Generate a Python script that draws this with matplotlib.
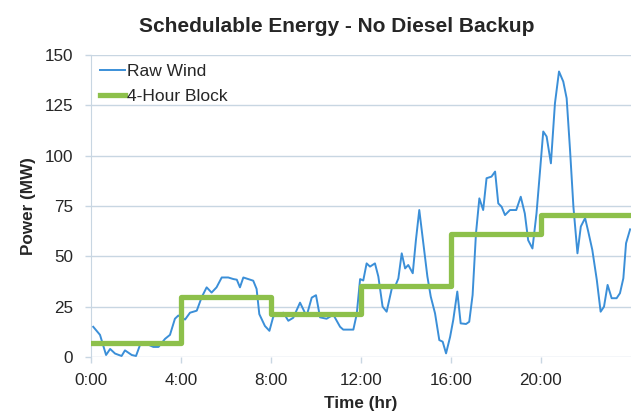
import matplotlib
matplotlib.use("Agg")
import matplotlib.pyplot as plt

plt.rcParams.update({
    "font.family": "Liberation Sans",
    "font.size": 12,
})

# ── Data ──────────────────────────────────────────────────────────────────────
wind_t = [
    0.10, 0.40, 0.67, 0.85, 1.07, 1.36, 1.51, 1.81, 2.00, 2.18, 2.47, 2.77,
    3.00, 3.29, 3.51, 3.73, 3.88, 4.18, 4.40, 4.70, 4.92, 5.14, 5.36, 5.58,
    5.81, 6.10, 6.33, 6.48, 6.62, 6.77, 6.99, 7.21, 7.36, 7.48, 7.73, 7.93,
    8.10, 8.25, 8.55, 8.77, 8.99, 9.29, 9.58, 9.81, 10.00, 10.18, 10.47, 10.77,
    11.07, 11.21, 11.66, 11.81, 11.96, 12.10, 12.25, 12.40, 12.62, 12.77, 12.96,
    13.14, 13.37, 13.51, 13.66, 13.81, 13.96, 14.10, 14.30, 14.44, 14.59, 14.77,
    14.95, 15.10, 15.29, 15.48, 15.63, 15.78, 15.96, 16.10, 16.28, 16.43, 16.67,
    16.81, 16.96, 17.11, 17.26, 17.43, 17.58, 17.80, 17.96, 18.10, 18.25, 18.40,
    18.62, 18.90, 19.10, 19.28, 19.43, 19.62, 19.80, 19.96, 20.10, 20.25, 20.44,
    20.62, 20.80, 20.99, 21.14, 21.29, 21.44, 21.62, 21.77, 21.96, 22.10, 22.28,
    22.48, 22.65, 22.80, 22.96, 23.14, 23.36, 23.51, 23.66, 23.78, 23.96,
]
wind_mw = [
    15.0, 11.0, 1.0, 4.0, 1.7, 0.5, 3.3, 1.0, 0.5, 6.0, 6.5, 5.0,
    5.0, 9.0, 11.0, 19.0, 20.6, 18.6, 22.0, 23.0, 29.7, 34.6, 32.0, 34.6,
    39.5, 39.5, 38.7, 38.4, 34.6, 39.5, 38.7, 37.9, 33.8, 21.3, 15.4, 13.0,
    20.0, 21.0, 22.0, 18.0, 19.5, 27.0, 20.3, 29.5, 30.7, 19.7, 19.0, 21.0,
    15.0, 13.6, 13.6, 21.3, 38.7, 38.0, 46.5, 44.9, 46.5, 40.0, 25.0,
    22.5, 34.1, 34.9, 39.0, 51.5, 44.0, 45.7, 41.6, 58.0, 73.0, 56.5,
    40.0, 30.0, 21.7, 8.4, 7.6, 1.8, 10.0, 18.4, 32.5, 16.7, 16.4,
    17.5, 30.8, 61.4, 78.8, 73.0, 88.8, 89.6, 92.1, 76.3, 74.6, 70.5,
    73.0, 73.0, 79.6, 71.3, 58.0, 53.9, 71.3, 92.9, 112.0, 109.5, 96.2,
    126.0, 141.8, 136.8, 128.5, 102.9, 74.7, 51.5, 64.8, 69.0, 62.3, 53.2,
    38.3, 22.5, 25.0, 35.8, 29.2, 29.2, 31.7, 39.1, 56.5, 63.4,
]

block_start = [0, 4, 8, 12, 16, 20, 24]
block_mw = [7.0, 30.0, 21.5, 35.5, 61.0, 70.5, 70.5]

x_ticks = [0, 4, 8, 12, 16, 20]
x_labels = ["0:00", "4:00", "8:00", "12:00", "16:00", "20:00"]
y_ticks = [0, 25, 50, 75, 100, 125, 150]

BLUE = "#3b8fd8"
GREEN = "#8dc04b"
GRID = "#c8d6e2"
TEXT = "#262626"

fig = plt.figure(figsize=(6.44, 4.12), dpi=100)
ax = fig.add_axes([91 / 644, 1 - 357 / 412, 540 / 644, 302 / 412])

ax.plot(wind_t, wind_mw, color=BLUE, linewidth=1.4, label="Raw Wind", zorder=3)
ax.step(block_start, block_mw, where="post", color=GREEN, linewidth=3.8,
        label="4-Hour Block", zorder=4)

ax.set_xlim(0, 24)
ax.set_ylim(0, 150)
ax.set_xticks(x_ticks)
ax.set_xticklabels(x_labels)
ax.set_yticks(y_ticks)
ax.tick_params(axis="both", colors=GRID, labelcolor=TEXT, labelsize=12.3,
               length=4, width=1)
ax.tick_params(axis="x", pad=7.5)
ax.tick_params(axis="y", pad=9)

ax.grid(axis="y", color=GRID, linewidth=1)
ax.set_axisbelow(True)
for side in ("top", "right", "bottom"):
    ax.spines[side].set_visible(False)
ax.spines["left"].set_color(GRID)

ax.set_xlabel("Time (hr)", fontweight="bold", fontsize=12.3, color=TEXT, labelpad=6)
ax.set_ylabel("Power (MW)", fontweight="bold", fontsize=12.3, color=TEXT, labelpad=6)

fig.text(337 / 644, 1 - 27 / 412, "Schedulable Energy - No Diesel Backup",
         ha="center", va="center", fontsize=15, fontweight="bold", color=TEXT)

ax.legend(loc="upper left", frameon=False, fontsize=12.5, handlelength=1.45,
          handletextpad=0.15, borderaxespad=0.1, labelspacing=0.6,
          bbox_to_anchor=(0.0, 1.0))
for txt in ax.get_legend().get_texts():
    txt.set_color(TEXT)

fig.savefig("out.png", dpi=100)
